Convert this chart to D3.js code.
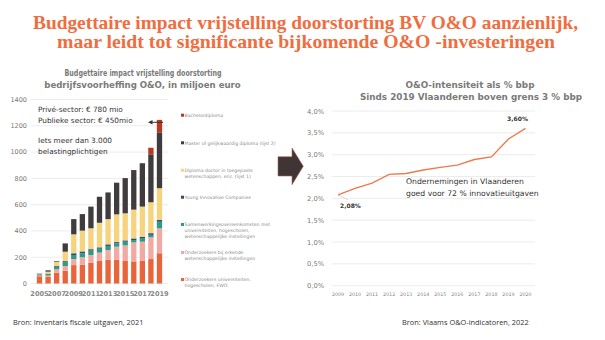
<!DOCTYPE html>
<html>
<head>
<meta charset="utf-8">
<script src="https://cdn.jsdelivr.net/npm/d3@7"></script>
<style>
  body { margin: 0; background: #fff; }
  svg { display: block; }
</style>
</head>
<body>
<div id="chart"></div>
<script>
// left chart data (miljoen euro)
var years = d3.range(2005, 2020).map(String);
var yearTicks = ["2005", "2007", "2009", "2011", "2013", "2015", "2017", "2019"];
var seriesNames = [
  "Onderzoekers universiteiten, hogescholen, FWO",
  "Onderzoekers bij erkende wetenschappelijke instellingen",
  "Samenwerkingsovereenkomsten met universiteiten, hogescholen, wetenschappelijke instellingen",
  "Young Innovative Companies",
  "Diploma doctor in toegepaste wetenschappen, enz. (lijst 1)",
  "Master of gelijkwaardig diploma (lijst 2)",
  "Bachelordiploma"
];
var univ     = [55, 50, 82, 97, 140, 144, 158, 171, 179, 179, 171, 168, 171, 186, 230];
var erkend   = [5, 10, 26, 36, 46, 56, 59, 64, 76, 101, 119, 145, 147, 166, 190];
var samenw   = [4, 12, 20, 30, 31, 30, 33, 30, 31, 25, 28, 17, 28, 18, 50];
var yic      = [2, 3, 7, 7, 13, 14, 11, 10, 12, 10, 10, 13, 10, 13, 13];
var doctor   = [4, 15, 30, 72, 144, 158, 159, 187, 192, 211, 206, 219, 229, 235, 242];
var master   = [5, 10, 5, 63, 116, 126, 165, 198, 203, 241, 268, 301, 330, 365, 425];
var bachelor = [0, 0, 0, 0, 0, 0, 0, 0, 0, 0, 0, 0, 0, 50, 95];
var leftTicks = [0, 200, 400, 600, 800, 1000, 1200, 1400];

// right chart data (% bbp)
var rdYears = ["2009", "2010", "2011", "2012", "2013", "2014", "2015", "2016", "2017", "2018", "2019", "2020"];
var rdIntensity = [2.08, 2.23, 2.35, 2.55, 2.57, 2.65, 2.71, 2.76, 2.89, 2.95, 3.36, 3.60];
var rightTicks = [0, 0.5, 1, 1.5, 2, 2.5, 3, 3.5, 4];

var W = 605, H = 340;
var svg = d3.select("#chart").append("svg").attr("width", W).attr("height", H);
var sans = "'DejaVu Sans', sans-serif";
var orange = "#f06d40";

// main title
var title = svg.append("g").attr("font-family", "'Liberation Serif', serif")
  .attr("font-weight", "bold").attr("fill", orange).attr("font-size", 19);
title.append("text").attr("x", 33).attr("y", 29).attr("textLength", 545)
  .attr("lengthAdjust", "spacingAndGlyphs")
  .text("Budgettaire impact vrijstelling doorstorting BV O&O aanzienlijk,");
title.append("text").attr("x", 57).attr("y", 48).attr("textLength", 498)
  .attr("lengthAdjust", "spacingAndGlyphs")
  .text("maar leidt tot significante bijkomende O&O -investeringen");

// ---------- left stacked bars ----------
var stackData = years.map(function(y, i) {
  return {year: y, univ: univ[i], erkend: erkend[i], samenw: samenw[i], yic: yic[i],
          doctor: doctor[i], master: master[i], bachelor: bachelor[i]};
});
var keys = ["univ", "erkend", "samenw", "yic", "doctor", "master", "bachelor"];
var colors = ["#e8643a", "#f1aaa3", "#2b9c86", "#2f4a78", "#f6d47e", "#403c3d", "#b63a1f"];

var x = d3.scaleBand().domain(years).range([33.6, 165.4]).padding(0.38);
var y = d3.scaleLinear().domain([0, 1400]).range([283.5, 99.5]);

var left = svg.append("g");
left.selectAll("line.grid").data(leftTicks).enter().append("line")
  .attr("x1", 31).attr("x2", 168)
  .attr("y1", function(d) { return y(d); }).attr("y2", function(d) { return y(d); })
  .attr("stroke", "#e4e4e4").attr("stroke-width", 0.7);

left.selectAll("text.ytick").data(leftTicks).enter().append("text")
  .attr("x", 27).attr("y", function(d) { return y(d) + 2.3; })
  .attr("text-anchor", "end").attr("font-family", sans).attr("font-size", 6.5)
  .attr("fill", "#777").text(function(d) { return d; });

var stack = d3.stack().keys(keys);
left.selectAll("g.layer").data(stack(stackData)).enter().append("g")
  .attr("fill", function(d, i) { return colors[i]; })
  .selectAll("rect").data(function(d) { return d; }).enter().append("rect")
  .attr("x", function(d) { return x(d.data.year); })
  .attr("width", x.bandwidth())
  .attr("y", function(d) { return y(d[1]); })
  .attr("height", function(d) { return y(d[0]) - y(d[1]); });

left.selectAll("text.xtick").data(yearTicks).enter().append("text")
  .attr("x", function(d) { return x(d) + x.bandwidth() / 2; }).attr("y", 296)
  .attr("text-anchor", "middle").attr("font-family", sans).attr("font-size", 6.6)
  .attr("font-weight", "bold").attr("fill", "#888").text(function(d) { return d; });

// left title
var lt = left.append("g").attr("font-family", sans).attr("font-weight", "bold")
  .attr("fill", "#7a7a7a").attr("font-size", 8.6).attr("text-anchor", "middle");
lt.append("text").attr("x", 143).attr("y", 76).attr("textLength", 157)
  .attr("lengthAdjust", "spacingAndGlyphs").text("Budgettaire impact vrijstelling doorstorting");
lt.append("text").attr("x", 142.5).attr("y", 88).text("bedrijfsvoorheffing O&O, in miljoen euro");

// legend
var legendY = [115.7, 143.3, 170.7, 197.7, 225, 253, 280];
var legendLines = [
  ["Bachelordiploma"],
  ["Master of gelijkwaardig diploma (lijst 2)"],
  ["Diploma doctor in toegepaste", "wetenschappen, enz. (lijst 1)"],
  ["Young Innovative Companies"],
  ["Samenwerkingsovereenkomsten met", "universiteiten, hogescholen,", "wetenschappelijke instellingen"],
  ["Onderzoekers bij erkende", "wetenschappelijke instellingen"],
  ["Onderzoekers universiteiten,", "hogescholen, FWO"]
];
var legColors = colors.slice().reverse();
var leg = left.selectAll("g.leg").data(legendLines).enter().append("g")
  .attr("transform", function(d, i) { return "translate(181," + legendY[i] + ")"; });
leg.append("rect").attr("x", 0).attr("y", -2).attr("width", 3).attr("height", 3)
  .attr("fill", function(d, i) { return legColors[i]; });
leg.each(function(lines) {
  var t = d3.select(this).append("text").attr("font-family", sans).attr("font-size", 4.6)
    .attr("fill", "#8a8a8a").attr("x", 3.5).attr("y", 1.3);
  lines.forEach(function(l, j) {
    t.append("tspan").attr("x", 3.5).attr("dy", j === 0 ? 0 : 5.6).text(l);
  });
});

// annotations
var ann = left.append("g").attr("font-family", sans)
  .attr("font-size", 7.3).attr("fill", "#333");
ann.append("text").attr("x", 38).attr("y", 112).text("Privé-sector: € 780 mio");
ann.append("text").attr("x", 38).attr("y", 123).text("Publieke sector: € 450mio");
ann.append("text").attr("x", 38).attr("y", 143).text("Iets meer dan 3.000");
ann.append("text").attr("x", 38).attr("y", 153.5).text("belastingplichtigen");
left.append("line").attr("x1", 151).attr("x2", 163).attr("y1", 122.3).attr("y2", 122.3)
  .attr("stroke", "#333").attr("stroke-width", 1);
left.append("path").attr("d", "M148,122.3 L152.5,120 L152.5,124.6 Z").attr("fill", "#333");

// big arrow
svg.append("path")
  .attr("d", "M278,156.7 L292,156.7 L292,148 L303.3,166.3 L292,184.7 L292,176 L278,176 Z")
  .attr("fill", "#3f3535").attr("stroke", "#b0645a").attr("stroke-width", 0.6);

// ---------- right line chart ----------
var xr = d3.scalePoint().domain(rdYears).range([338, 525.5]);
var yr = d3.scaleLinear().domain([0, 4]).range([285.7, 111]);
var right = svg.append("g");

right.selectAll("line.grid").data(rightTicks).enter().append("line")
  .attr("x1", 332).attr("x2", 535)
  .attr("y1", function(d) { return yr(d); }).attr("y2", function(d) { return yr(d); })
  .attr("stroke", "#e4e4e4").attr("stroke-width", 0.7);

var fmt = function(d) { return d.toFixed(1).replace(".", ",") + "%"; };
right.selectAll("text.ytick").data(rightTicks).enter().append("text")
  .attr("x", 324).attr("y", function(d) { return yr(d) + 2.5; })
  .attr("text-anchor", "end").attr("font-family", sans).attr("font-size", 6.7)
  .attr("fill", "#777").text(fmt);

right.selectAll("text.xtick").data(rdYears).enter().append("text")
  .attr("x", function(d) { return xr(d); }).attr("y", 295.5)
  .attr("text-anchor", "middle").attr("font-family", sans).attr("font-size", 4.8)
  .attr("fill", "#888").text(function(d) { return d; });

// leader line for first label
right.append("line").attr("x1", xr("2009")).attr("y1", yr(rdIntensity[0]))
  .attr("x2", xr("2009") + 10).attr("y2", yr(rdIntensity[0]) + 5)
  .attr("stroke", "#c9c3e6").attr("stroke-width", 0.7);

var line = d3.line()
  .x(function(d, i) { return xr(rdYears[i]); })
  .y(function(d) { return yr(d); });
right.append("path").datum(rdIntensity).attr("d", line)
  .attr("fill", "none").attr("stroke", "#ec7a4c").attr("stroke-width", 1.4);

var lbl = right.append("g").attr("font-family", sans).attr("font-size", 6)
  .attr("font-weight", "bold").attr("fill", "#333");
lbl.append("text").attr("x", xr("2009") + 2).attr("y", yr(rdIntensity[0]) + 13)
  .text(rdIntensity[0].toFixed(2).replace(".", ",") + "%");
lbl.append("text").attr("x", xr("2020") - 8).attr("y", yr(rdIntensity[11]) - 7)
  .attr("text-anchor", "middle")
  .text(rdIntensity[11].toFixed(2).replace(".", ",") + "%");

var rt = right.append("g").attr("font-family", sans).attr("font-weight", "bold")
  .attr("fill", "#7a7a7a").attr("font-size", 8.8).attr("text-anchor", "middle");
rt.append("text").attr("x", 470).attr("y", 88).text("O&O-intensiteit als % bbp");
rt.append("text").attr("x", 471).attr("y", 99.5).text("Sinds 2019 Vlaanderen boven grens 3 % bbp");

var ann2 = right.append("g").attr("font-family", sans)
  .attr("font-size", 7.7).attr("fill", "#333");
ann2.append("text").attr("x", 406).attr("y", 183.5).text("Ondernemingen in Vlaanderen");
ann2.append("text").attr("x", 406).attr("y", 195.5).text("goed voor 72 % innovatieuitgaven");

// sources
var src = svg.append("g").attr("font-family", "'Open Sans', sans-serif")
  .attr("font-size", 7.4).attr("fill", "#333");
src.append("text").attr("x", 13).attr("y", 325).text("Bron: Inventaris fiscale uitgaven, 2021");
src.append("text").attr("x", 402).attr("y", 325).text("Bron: Vlaams O&O-indicatoren, 2022");
</script>
</body>
</html>
